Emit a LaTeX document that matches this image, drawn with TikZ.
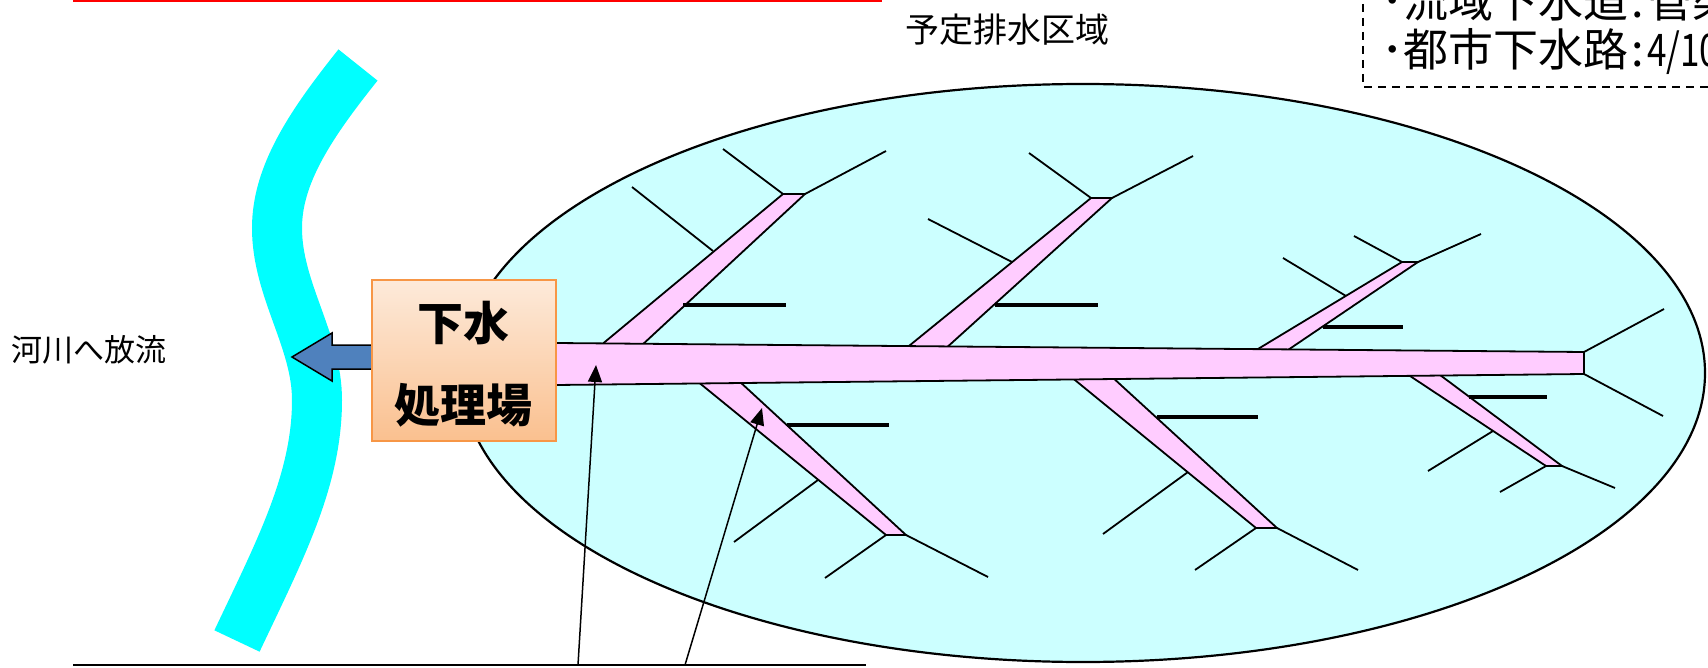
\documentclass[tikz,border=0pt]{standalone}
\usepackage{fontspec}
\newfontfamily\jp{Noto Sans CJK JP}
\usetikzlibrary{arrows.meta,shapes.geometric}
\definecolor{areacyan}{HTML}{CCFFFF}
\definecolor{pipepink}{HTML}{FFCCFF}
\definecolor{rivercyan}{HTML}{00FFFF}
\definecolor{flowblue}{HTML}{4F81BD}
\definecolor{plantedge}{HTML}{F79646}
\definecolor{planttop}{HTML}{FDEADA}
\definecolor{plantbottom}{HTML}{FAC08F}
\begin{document}
\begin{tikzpicture}[x=1pt,y=-1pt,
  area/.style={draw=black,line width=2.2pt,fill=areacyan,ellipse,inner sep=0pt,minimum width=1244pt,minimum height=578pt},
  pipe/.style={draw=black,line width=1.8pt,fill=pipepink,line join=miter},
  lateral/.style={draw=black,line width=1.8pt},
  sublateral/.style={draw=black,line width=3.3pt},
  plant/.style={draw=plantedge,line width=2pt,top color=planttop,bottom color=plantbottom,minimum width=184pt,minimum height=161pt,inner sep=0pt},
  plantlabel/.style={font=\jp\bfseries\fontsize{46}{50}\selectfont,inner sep=0pt},
  plaintext/.style={font=\jp\fontsize{31}{36}\selectfont,inner sep=0pt,anchor=base west},
  legendtext/.style={font=\jp\fontsize{45}{50}\selectfont,inner sep=0pt,anchor=base west},
  pointer/.style={draw=black,line width=1.5pt,-{Triangle[length=17pt,width=14pt]}},
  river/.style={draw=rivercyan,line width=50pt},
  flow/.style={draw=black,line width=1.5pt,fill=flowblue,line join=miter}
]
\useasboundingbox (0,0) rectangle (1708,668);

% drainage area
\node[area] (area) at (1083,373) {};

% river
\draw[river] (358,65) .. controls (310,125) and (277,175) .. (277,228)
  .. controls (277,290) and (317,340) .. (317,400)
  .. controls (317,480) and (280,550) .. (237,641);

% discharge arrow
\draw[flow] (374,345) -- (332,345) -- (332,333) -- (292,357) -- (332,381) -- (332,369) -- (374,369) -- cycle;

% branch pipes
\draw[pipe] (600,346) -- (783,194) -- (805,194) -- (641,346) -- cycle;
\draw[pipe] (904,350) -- (1091,198) -- (1112,198) -- (944,350) -- cycle;
\draw[pipe] (1253,352) -- (1402,262) -- (1418,262) -- (1285,352) -- cycle;
\draw[pipe] (697,381) -- (886,535) -- (906,535) -- (739,381) -- cycle;
\draw[pipe] (1070,376) -- (1256,528) -- (1277,528) -- (1111,376) -- cycle;
\draw[pipe] (1404,372) -- (1546,466) -- (1562,466) -- (1436,372) -- cycle;

% trunk
\draw[pipe] (556,343) -- (1584,352) -- (1584,374) -- (556,385) -- cycle;

% laterals
\draw[lateral] (783,194) -- (723,149);
\draw[lateral] (805,194) -- (886,151);
\draw[lateral] (713,251) -- (632,187);
\draw[sublateral] (683,305) -- (786,305);

\draw[lateral] (1091,198) -- (1029,153);
\draw[lateral] (1112,198) -- (1193,156);
\draw[lateral] (1012,262) -- (928,219);
\draw[sublateral] (995,305) -- (1098,305);

\draw[lateral] (1402,262) -- (1354,236);
\draw[lateral] (1418,262) -- (1481,234);
\draw[lateral] (1346,296) -- (1283,258);
\draw[sublateral] (1323,327) -- (1403,327);

\draw[lateral] (886,535) -- (825,578);
\draw[lateral] (906,535) -- (988,577);
\draw[lateral] (818,480) -- (734,542);
\draw[sublateral] (787,425) -- (889,425);

\draw[lateral] (1256,528) -- (1195,570);
\draw[lateral] (1277,528) -- (1358,570);
\draw[lateral] (1188,472) -- (1103,534);
\draw[sublateral] (1157,417) -- (1258,417);

\draw[lateral] (1546,466) -- (1500,492);
\draw[lateral] (1562,466) -- (1615,488);
\draw[lateral] (1493,431) -- (1428,471);
\draw[sublateral] (1469,397) -- (1547,397);

\draw[lateral] (1584,352) -- (1664,309);
\draw[lateral] (1584,374) -- (1663,416);

% treatment plant
\node[plant] (plant) at (464,360.5) {};
\node[plantlabel] (plantA) at (463,323) {下水};
\node[plantlabel] (plantB) at (463,405) {処理場};

% labels
\node[plaintext] (riverlabel) at (11,361) {河川へ放流};
\node[plaintext,font=\jp\fontsize{34}{38}\selectfont] (arealabel) at (905,43) {予定排水区域};

% bottom line and pointers
\coordinate (baseL) at (73,665);
\coordinate (baseR) at (866,665);
\draw[line width=1.5pt] (baseL) -- (baseR);
\coordinate (footA) at (578,665);
\coordinate (tipA) at (596,365);
\coordinate (footB) at (685,665);
\coordinate (tipB) at (762,408);
\draw[pointer] (footA) -- (tipA);
\draw[pointer] (footB) -- (tipB);

% top red line
\coordinate (redL) at (73,1);
\coordinate (redR) at (882,1);
\draw[red,line width=2.5pt] (redL) -- (redR);

% legend box
\draw[line width=1.5pt,dash pattern=on 8pt off 6pt] (1363,-10) -- (1363,87) -- (1720,87);
\node[legendtext] (leg1) at (1381,18) {･流域下水道\hspace{3pt}:\hspace{3pt}管渠};
\node[legendtext] (leg2) at (1381,67) {･都市下水路\hspace{3pt}:\hspace{3pt}\scalebox{0.78}[1]{4/10}};
\end{tikzpicture}
\end{document}
